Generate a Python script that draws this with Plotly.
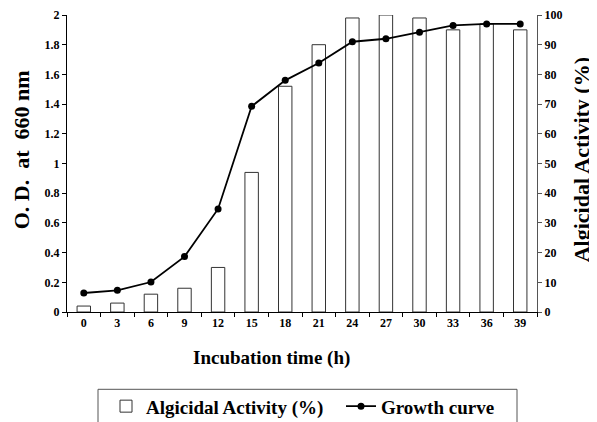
import plotly.graph_objects as go

hours = ["0", "3", "6", "9", "12", "15", "18", "21", "24", "27", "30", "33", "36", "39"]
activity_pct = [2, 3, 6, 8, 15, 47, 76, 90, 99, 100, 99, 95, 97, 95]
growth_od = [0.128, 0.146, 0.202, 0.373, 0.694, 1.385, 1.56, 1.677, 1.82, 1.84, 1.884, 1.93, 1.94, 1.94]

FONT = "Liberation Serif"
TICKFONT = dict(family=FONT, size=12, color="black", weight="bold")
TITLEFONT = dict(family=FONT, size=22, color="black")

# plot area in screen pixels: x 67..537, y 14.7..311.7 (page has 8px body margin)
PX0, PX1, PY0, PY1 = 67, 537, 14.7, 311.7
def px(sx):
    return (sx - PX0) / (PX1 - PX0)
def py(sy):
    return (PY1 - sy) / (PY1 - PY0)

fig = go.Figure()
fig.add_trace(go.Bar(
    x=hours, y=activity_pct, name="<b>Algicidal Activity (%)</b>",
    yaxis="y", width=0.4,
    marker=dict(color="white", line=dict(color="#333333", width=1)),
))
fig.add_trace(go.Scatter(
    x=hours, y=growth_od, name="<b>Growth curve</b>", mode="lines+markers",
    yaxis="y2",
    line=dict(color="black", width=1.8),
    marker=dict(color="black", size=7),
))

fig.update_layout(
    width=597, height=422,
    margin=dict(l=59, r=68, t=7, b=118, autoexpand=False),
    plot_bgcolor="white", paper_bgcolor="white",
    font=dict(family=FONT, color="black"),
    showlegend=True,
    legend=dict(
        orientation="h", x=px(106), xanchor="left", y=py(387), yanchor="top",
        borderwidth=0, bgcolor="rgba(0,0,0,0)",
        font=dict(family=FONT, size=19, color="black"),
        entrywidth=190, entrywidthmode="pixels",
        traceorder="normal",
    ),
    xaxis=dict(
        type="category", range=[-0.5, 13.5], tickson="boundaries",
        showline=True, linecolor="black", linewidth=1,
        ticks="outside", ticklen=4, tickcolor="black",
        tickfont=TICKFONT,
        showgrid=False, zeroline=False, automargin=False,
    ),
    yaxis=dict(
        range=[0, 100], dtick=10, side="right",
        showline=True, linecolor="#555555", linewidth=1,
        ticks="outside", ticklen=4, tickcolor="#555555",
        tickfont=TICKFONT,
        showgrid=False, zeroline=False, automargin=False,
    ),
    yaxis2=dict(
        range=[0, 2], dtick=0.2, overlaying="y", side="left",
        showline=True, linecolor="black", linewidth=1,
        ticks="outside", ticklen=4, tickcolor="black",
        tickfont=TICKFONT,
        tickformat="~g",
        showgrid=False, zeroline=False, automargin=False,
    ),
    annotations=[
        dict(text="<b>Incubation time (h)</b>", x=px(271), y=py(358), xref="paper", yref="paper",
             showarrow=False, font=dict(family=FONT, size=19, color="black"),
             xanchor="center", yanchor="middle"),
        dict(text="<b>O. D.  at  660 nm</b>", x=px(21), y=py(150), xref="paper", yref="paper",
             showarrow=False, font=TITLEFONT, textangle=-90, xanchor="center", yanchor="middle"),
        dict(text="<b>Algicidal Activity (%)</b>", x=px(581), y=py(160), xref="paper", yref="paper",
             showarrow=False, font=TITLEFONT, textangle=-90, xanchor="center", yanchor="middle"),
    ],
    shapes=[
        dict(type="rect", xref="paper", yref="paper", x0=px(98), x1=px(517), y0=py(389), y1=py(440),
             line=dict(color="#555555", width=1), fillcolor="rgba(0,0,0,0)"),
    ],
)

fig.write_html("out.html")
